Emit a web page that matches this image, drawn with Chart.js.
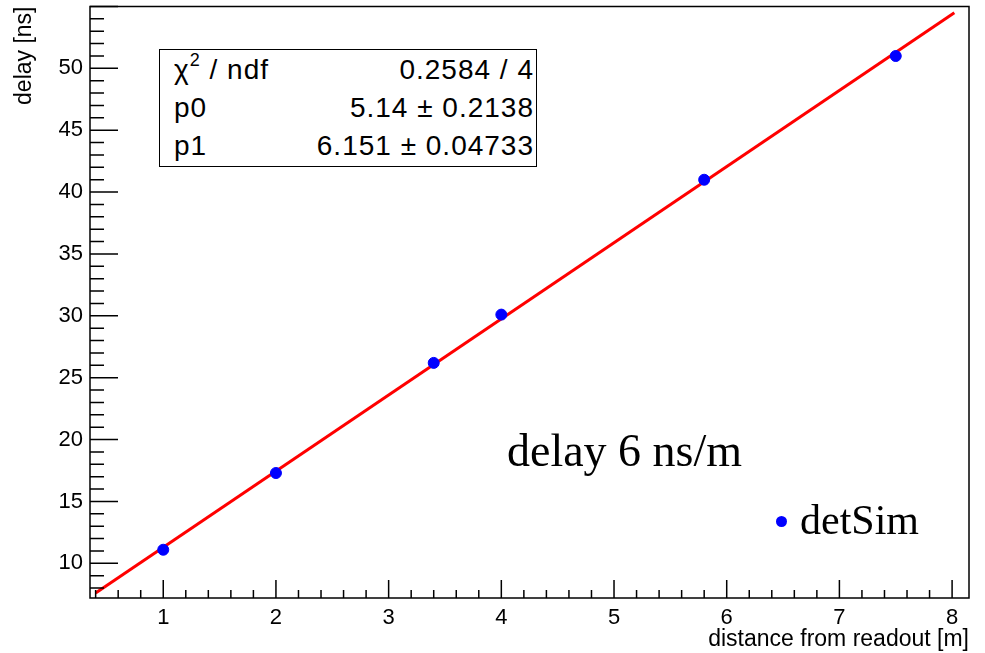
<!DOCTYPE html>
<html>
<head>
<meta charset="utf-8">
<script src="https://cdn.jsdelivr.net/npm/chart.js@4.4.1/dist/chart.umd.min.js"></script>
<style>
    html, body { margin: 0; padding: 0; background: #fff; }
    #wrap { position: relative; width: 985px; height: 653px; }
    canvas { display: block; }
    .stats {
        position: absolute; left: 159px; top: 49px; width: 376px; height: 116px;
        border: 1.5px solid #000; background: #fff;
        font-family: 'Liberation Sans', Arial, sans-serif; font-size: 28px; color: #000;
        letter-spacing: 1px;
    }
    .stats .row { position: absolute; left: 14px; right: 2px; height: 38px; line-height: 38px; }
    .stats .val { position: absolute; right: 0; top: 0; }
    .stats sup { font-size: 18px; line-height: 0; position: relative; top: -3px; }
    .note {
        position: absolute; font-family: 'Liberation Serif', 'Times New Roman', serif;
        color: #000; white-space: nowrap;
    }
    .dot { position: absolute; width: 11px; height: 11px; border-radius: 50%; background: #0000ff; }
</style>
</head>
<body>
<div id="wrap">
    <canvas id="chart" width="985" height="653"></canvas>
    <div class="stats">
        <div class="row" style="top:1px">&chi;<sup>2</sup> / ndf<span class="val">0.2584 / 4</span></div>
        <div class="row" style="top:39px">p0<span class="val">5.14 &plusmn; 0.2138</span></div>
        <div class="row" style="top:77px">p1<span class="val">6.151 &plusmn; 0.04733</span></div>
    </div>
    <div class="note" style="left:507px; top:424px; font-size:46px;">delay 6 ns/m</div>
    <div class="dot" style="left:776px; top:516px;"></div>
    <div class="note" style="left:800px; top:496px; font-size:42px;">detSim</div>
</div>
<script>
// measured points
const distances = [1, 2, 3.4, 4, 5.8, 7.5];
const delays = [11.1, 17.3, 26.2, 30.1, 41.0, 51.0];

// fit line endpoints (pol1, p0 = 5.14, p1 = 6.151)
const fitX = [0.4, 8.02];
const fitY = [7.6, 54.5];

const xMajorTicks = [1, 2, 3, 4, 5, 6, 7, 8];
const yMajorTicks = [10, 15, 20, 25, 30, 35, 40, 45, 50];

const xRange = [0.35, 8.15];
const yRange = [7.2, 55];

const labelFont = {family: "'Liberation Sans', Arial, sans-serif", size: 22};
const titleFont = {family: "'Liberation Sans', Arial, sans-serif", size: 23};

// ROOT style frame with ticks pointing inwards
const frameTicks = {
    id: 'frameTicks',
    afterDatasetsDraw(chart) {
        const {ctx, chartArea: a, scales: {x, y}} = chart;
        ctx.save();
        ctx.strokeStyle = '#000';
        ctx.lineWidth = 1.5;
        ctx.strokeRect(a.left, a.top, a.right - a.left, a.bottom - a.top);
        ctx.beginPath();
        for (let v = 0.4; v <= x.max + 1e-9; v += 0.2) {
            const val = Math.round(v * 10) / 10;
            const px = x.getPixelForValue(val);
            const len = Number.isInteger(val) ? 18 : 8;
            ctx.moveTo(px, a.bottom);
            ctx.lineTo(px, a.bottom - len);
        }
        for (let v = Math.ceil(y.min); v <= y.max; v++) {
            const py = y.getPixelForValue(v);
            const len = v % 5 === 0 ? 28 : 14;
            ctx.moveTo(a.left, py);
            ctx.lineTo(a.left + len, py);
        }
        ctx.stroke();
        ctx.restore();
    }
};

new Chart(document.getElementById('chart'), {
    type: 'scatter',
    data: {
        datasets: [
            {
                label: 'fit',
                type: 'line',
                data: fitX.map((x, i) => ({x: x, y: fitY[i]})),
                borderColor: '#ff0000',
                borderWidth: 3,
                pointRadius: 0,
                order: 2
            },
            {
                label: 'detSim',
                data: distances.map((x, i) => ({x: x, y: delays[i]})),
                backgroundColor: '#0000ff',
                borderColor: '#0000ff',
                pointRadius: 5.5,
                order: 1
            }
        ]
    },
    options: {
        responsive: false,
        animation: false,
        layout: {padding: {top: 6, right: 16, left: 0, bottom: 0}},
        plugins: {legend: {display: false}, tooltip: {enabled: false}},
        scales: {
            x: {
                type: 'linear',
                min: xRange[0],
                max: xRange[1],
                grid: {display: false, drawTicks: false},
                border: {display: false},
                afterBuildTicks: scale => { scale.ticks = xMajorTicks.map(v => ({value: v})); },
                afterFit: scale => {
                    scale.height = 55;
                    scale.paddingLeft = 0;
                    scale.paddingRight = 0;
                },
                ticks: {color: '#000', font: labelFont, padding: 7, maxRotation: 0},
                title: {
                    display: true, text: 'distance from readout [m]', align: 'end',
                    color: '#000', font: titleFont, padding: {top: 0, bottom: 0}
                }
            },
            y: {
                type: 'linear',
                min: yRange[0],
                max: yRange[1],
                grid: {display: false, drawTicks: false},
                border: {display: false},
                afterBuildTicks: scale => { scale.ticks = yMajorTicks.map(v => ({value: v})); },
                afterFit: scale => {
                    scale.width = 90;
                    scale.paddingTop = 0;
                    scale.paddingBottom = 0;
                },
                ticks: {color: '#000', font: labelFont, padding: 7},
                title: {
                    display: true, text: 'delay [ns]', align: 'end',
                    color: '#000', font: titleFont, padding: {top: 11, bottom: 0}
                }
            }
        }
    },
    plugins: [frameTicks]
});
</script>
</body>
</html>
